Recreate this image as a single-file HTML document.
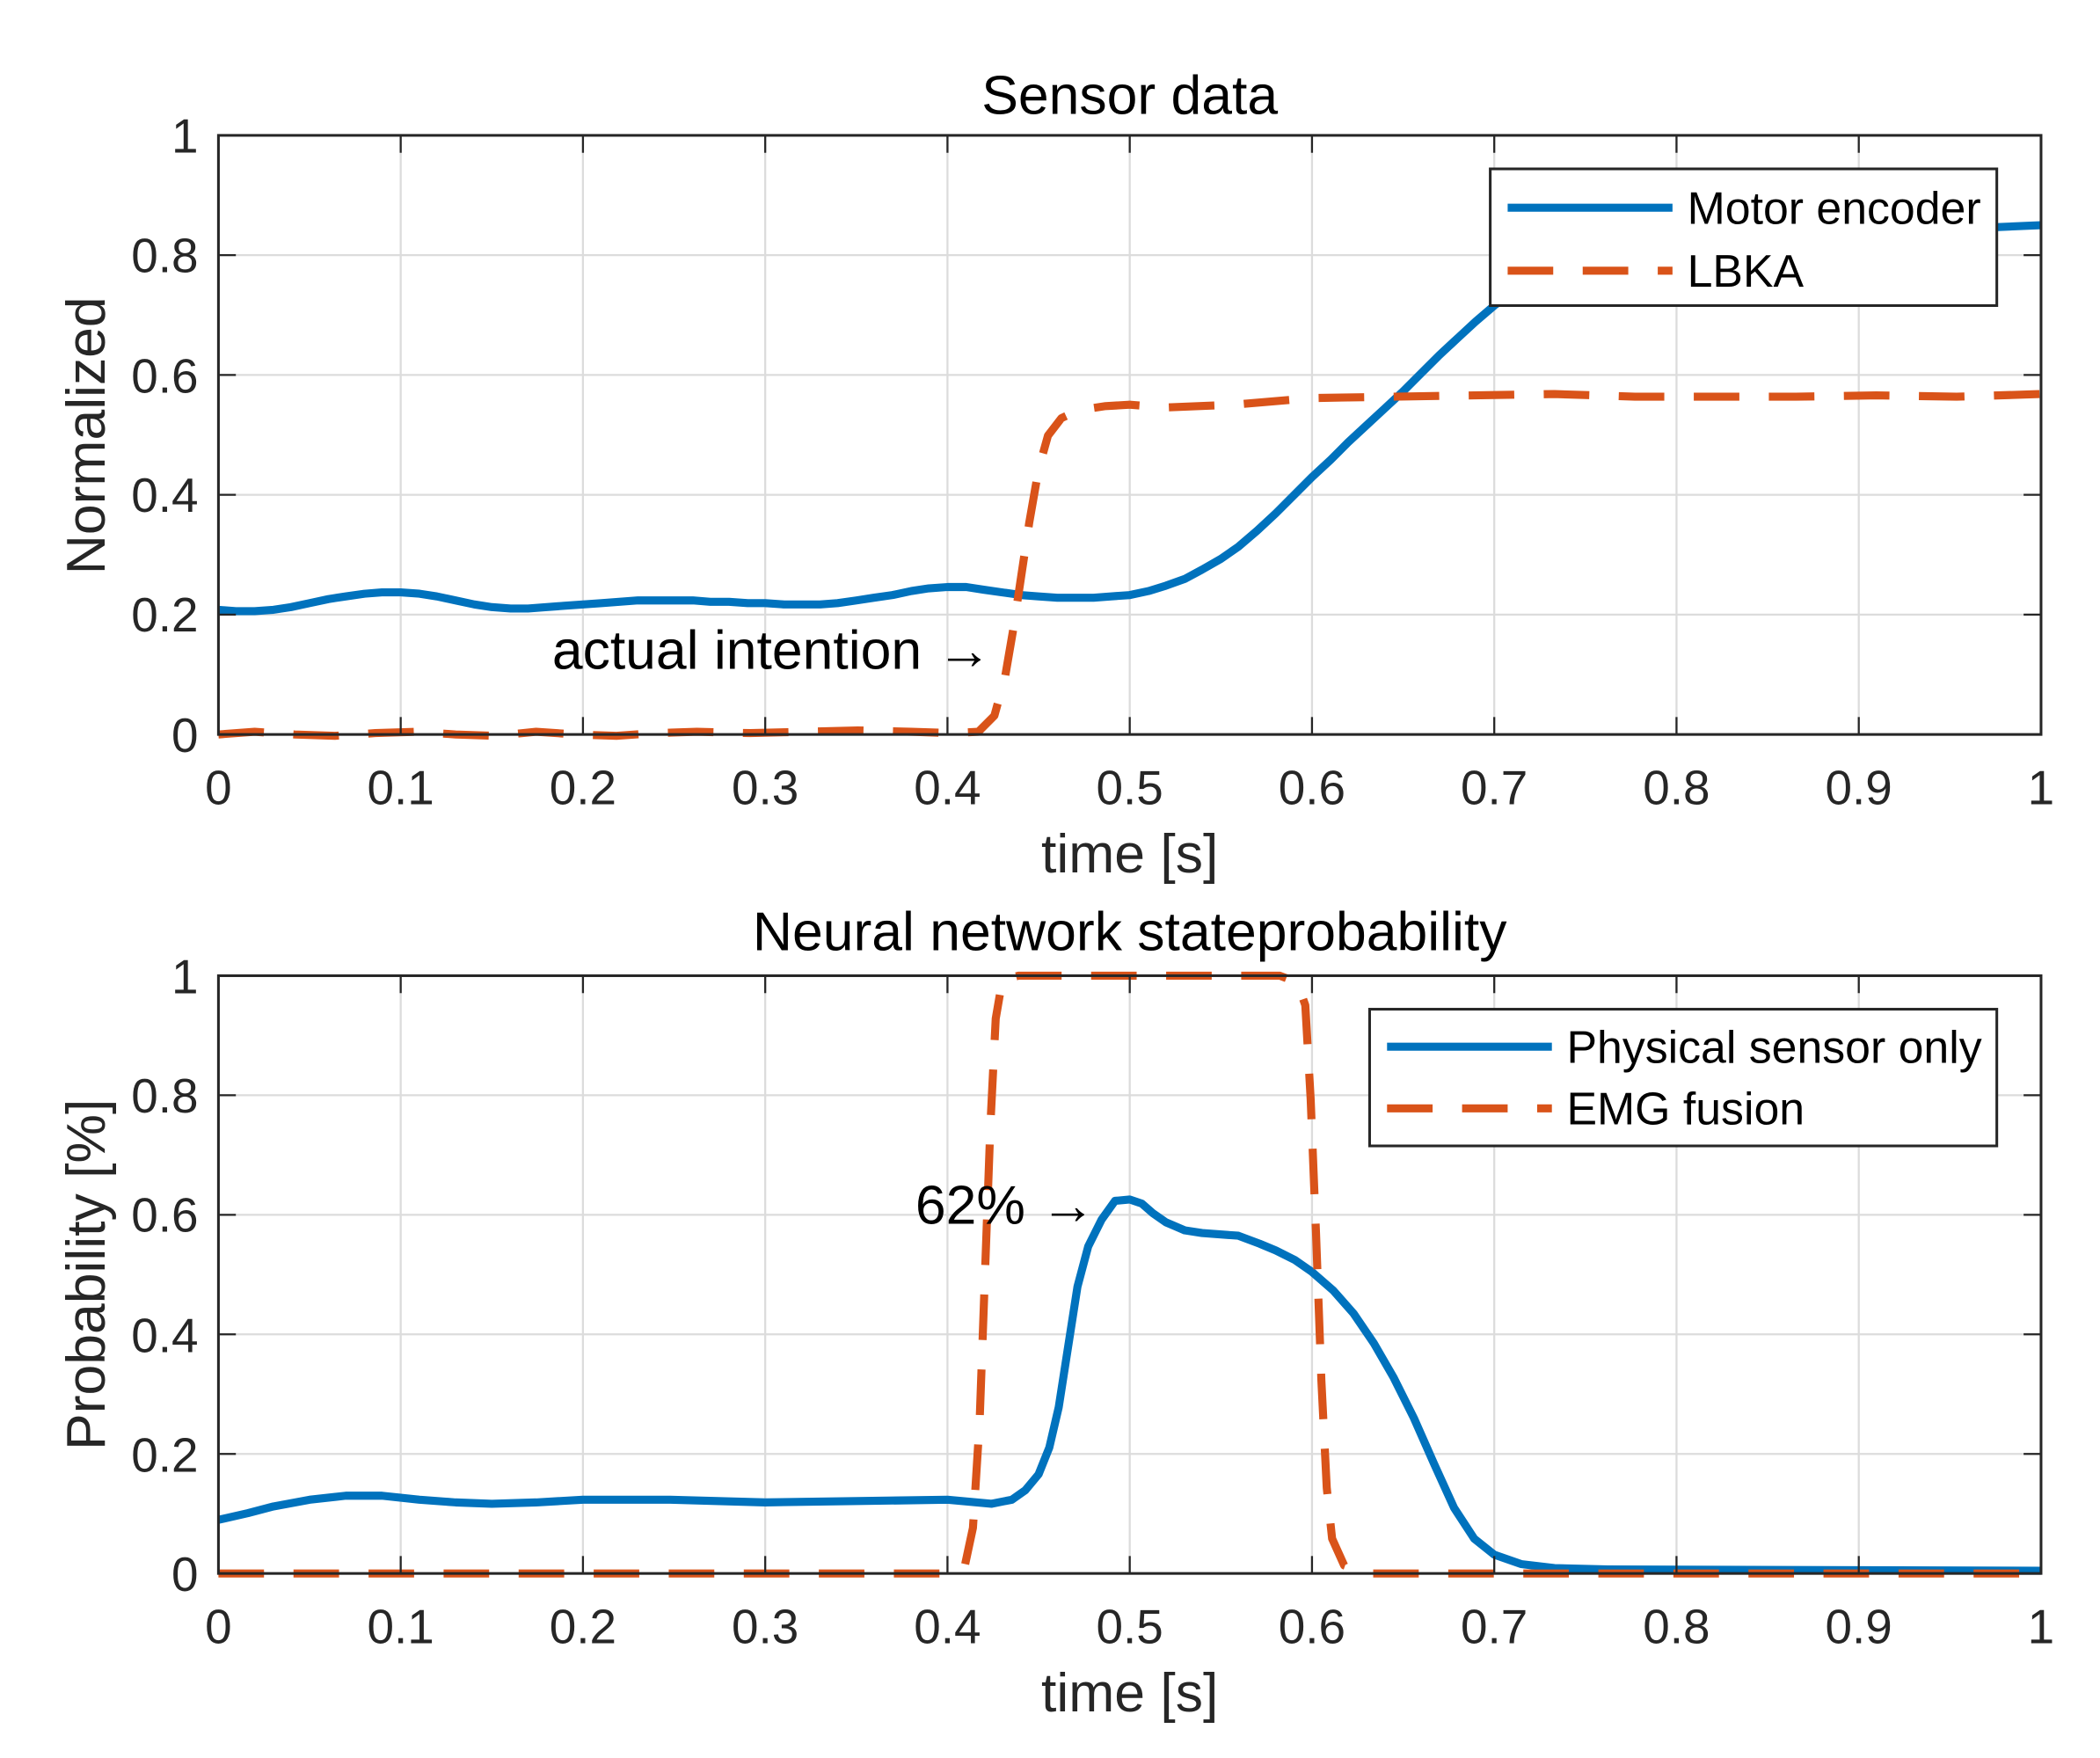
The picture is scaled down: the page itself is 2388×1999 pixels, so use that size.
<!DOCTYPE html>
<html><head><meta charset="utf-8"><style>html,body{margin:0;padding:0;background:#fff}svg{display:block}</style></head>
<body>
<svg width="2388" height="1999" viewBox="0 0 1567 1311.7" preserveAspectRatio="none" xmlns="http://www.w3.org/2000/svg" font-family="Liberation Sans, Arial, sans-serif">
<rect width="1567" height="1312" fill="#fff"/>
<!-- TOP AXES -->
<g stroke="#dcdcdc" stroke-width="1.5">
<line x1="299" y1="101" x2="299" y2="548"/><line x1="435" y1="101" x2="435" y2="548"/><line x1="571" y1="101" x2="571" y2="548"/><line x1="707" y1="101" x2="707" y2="548"/><line x1="843" y1="101" x2="843" y2="548"/><line x1="979" y1="101" x2="979" y2="548"/><line x1="1115" y1="101" x2="1115" y2="548"/><line x1="1251" y1="101" x2="1251" y2="548"/><line x1="1387" y1="101" x2="1387" y2="548"/>
<line x1="163" y1="458.6" x2="1523" y2="458.6"/><line x1="163" y1="369.2" x2="1523" y2="369.2"/><line x1="163" y1="279.8" x2="1523" y2="279.8"/><line x1="163" y1="190.4" x2="1523" y2="190.4"/>
</g>
<g fill="none" stroke-width="6" stroke-linejoin="round">
<polyline stroke="#0072BD" points="163,455 176,456 190,456 204,455 217,453 231,450 245,447 258,445 272,443 285,442 299,442 313,443 326,445 340,448 354,451 367,453 381,454 394,454 408,453 421,452 435,451 449,450 462,449 476,448 490,448 503,448 517,448 530,449 544,449 558,450 571,450 585,451 598,451 612,451 625,450 639,448 652,446 666,444 680,441 693,439 707,438 721,438 734,440 748,442 762,444 775,445 789,446 802,446 816,446 829,445 843,444 857,441 870,437 884,432 897,425 911,417 924,408 938,396 952,383 965,370 979,356 993,343 1006,330 1020,317 1033,305 1047,292 1061,278 1074,265 1088,252 1101,240 1115,228 1129,218 1142,209 1156,202 1170,196 1183,191 1197,187 1210,184 1224,181 1292,175 1360,172 1455,171 1523,168"/>
<polyline stroke="#D95319" stroke-dasharray="34,22" points="163,548 190,546 220,548 250,549 280,547 310,546 340,548 370,549 400,546 430,548 460,549 490,547 520,546 560,547 600,546 640,545 680,546 710,547 730,546 742,534 750,505 756,470 762,430 768,390 775,350 782,325 792,312 805,306 825,303 843,302 870,304 920,302 979,297 1040,296 1100,295 1160,294 1220,296 1280,296 1340,296 1400,295 1460,296 1523,294"/>
</g>
<rect x="163" y="101" width="1360" height="447" fill="none" stroke="#262626" stroke-width="2"/>
<g stroke="#262626" stroke-width="1.5">
<line x1="299" y1="548" x2="299" y2="535"/><line x1="435" y1="548" x2="435" y2="535"/><line x1="571" y1="548" x2="571" y2="535"/><line x1="707" y1="548" x2="707" y2="535"/><line x1="843" y1="548" x2="843" y2="535"/><line x1="979" y1="548" x2="979" y2="535"/><line x1="1115" y1="548" x2="1115" y2="535"/><line x1="1251" y1="548" x2="1251" y2="535"/><line x1="1387" y1="548" x2="1387" y2="535"/>
<line x1="299" y1="101" x2="299" y2="114"/><line x1="435" y1="101" x2="435" y2="114"/><line x1="571" y1="101" x2="571" y2="114"/><line x1="707" y1="101" x2="707" y2="114"/><line x1="843" y1="101" x2="843" y2="114"/><line x1="979" y1="101" x2="979" y2="114"/><line x1="1115" y1="101" x2="1115" y2="114"/><line x1="1251" y1="101" x2="1251" y2="114"/><line x1="1387" y1="101" x2="1387" y2="114"/>
<line x1="163" y1="458.6" x2="176" y2="458.6"/><line x1="163" y1="369.2" x2="176" y2="369.2"/><line x1="163" y1="279.8" x2="176" y2="279.8"/><line x1="163" y1="190.4" x2="176" y2="190.4"/>
<line x1="1523" y1="458.6" x2="1510" y2="458.6"/><line x1="1523" y1="369.2" x2="1510" y2="369.2"/><line x1="1523" y1="279.8" x2="1510" y2="279.8"/><line x1="1523" y1="190.4" x2="1510" y2="190.4"/>
</g>
<g font-size="36" fill="#262626" text-anchor="middle">
<text x="163" y="600">0</text><text x="299" y="600">0.1</text><text x="435" y="600">0.2</text><text x="571" y="600">0.3</text><text x="707" y="600">0.4</text><text x="843" y="600">0.5</text><text x="979" y="600">0.6</text><text x="1115" y="600">0.7</text><text x="1251" y="600">0.8</text><text x="1387" y="600">0.9</text><text x="1523" y="600">1</text>
</g>
<g font-size="36" fill="#262626" text-anchor="end">
<text x="148" y="561">0</text><text x="148" y="471">0.2</text><text x="148" y="382">0.4</text><text x="148" y="293">0.6</text><text x="148" y="203">0.8</text><text x="148" y="114">1</text>
</g>
<text x="843" y="651" font-size="41" text-anchor="middle" fill="#262626">time [s]</text>
<text x="843" y="85" font-size="41" text-anchor="middle" fill="#000">Sensor data</text>
<text transform="translate(78,325) rotate(-90)" font-size="41" text-anchor="middle" fill="#262626">Normalized</text>
<text x="412" y="499" font-size="41" fill="#000">actual intention →</text>
<rect x="1112" y="126" width="378" height="102" fill="#fff" stroke="#262626" stroke-width="2"/>
<line x1="1125" y1="155" x2="1248" y2="155" stroke="#0072BD" stroke-width="6"/>
<line x1="1125" y1="202" x2="1248" y2="202" stroke="#D95319" stroke-width="6" stroke-dasharray="34,22"/>
<text x="1259" y="167" font-size="34" fill="#000">Motor encoder</text>
<text x="1259" y="214" font-size="34" fill="#000">LBKA</text>

<!-- BOTTOM AXES -->
<g stroke="#dcdcdc" stroke-width="1.5">
<line x1="299" y1="728" x2="299" y2="1174"/><line x1="435" y1="728" x2="435" y2="1174"/><line x1="571" y1="728" x2="571" y2="1174"/><line x1="707" y1="728" x2="707" y2="1174"/><line x1="843" y1="728" x2="843" y2="1174"/><line x1="979" y1="728" x2="979" y2="1174"/><line x1="1115" y1="728" x2="1115" y2="1174"/><line x1="1251" y1="728" x2="1251" y2="1174"/><line x1="1387" y1="728" x2="1387" y2="1174"/>
<line x1="163" y1="1084.8" x2="1523" y2="1084.8"/><line x1="163" y1="995.6" x2="1523" y2="995.6"/><line x1="163" y1="906.4" x2="1523" y2="906.4"/><line x1="163" y1="817.2" x2="1523" y2="817.2"/>
</g>
<g fill="none" stroke-width="6" stroke-linejoin="round">
<polyline stroke="#0072BD" points="163,1134 185,1129 204,1124 231,1119 258,1116 285,1116 313,1119 340,1121 367,1122 400,1121 435,1119 500,1119 571,1121 640,1120 707,1119 740,1122 755,1119 765,1112 775,1100 783,1080 790,1050 797,1005 804,960 812,930 822,910 832,896 843,895 852,898 860,905 870,912 884,918 897,920 924,922 940,928 952,933 966,940 979,949 995,963 1010,980 1025,1002 1040,1028 1055,1058 1070,1092 1085,1125 1100,1148 1115,1160 1135,1167 1160,1170 1200,1171 1523,1172"/>
<polyline stroke="#D95319" stroke-dasharray="34,22" points="163,1174 712,1174 720,1168 726,1140 731,1060 735,950 739,840 743,760 748,731 760,728 955,728 968,733 974,750 978,820 982,920 986,1030 990,1110 994,1148 1003,1168 1020,1174 1523,1174"/>
</g>
<rect x="163" y="728" width="1360" height="446" fill="none" stroke="#262626" stroke-width="2"/>
<g stroke="#262626" stroke-width="1.5">
<line x1="299" y1="1174" x2="299" y2="1161"/><line x1="435" y1="1174" x2="435" y2="1161"/><line x1="571" y1="1174" x2="571" y2="1161"/><line x1="707" y1="1174" x2="707" y2="1161"/><line x1="843" y1="1174" x2="843" y2="1161"/><line x1="979" y1="1174" x2="979" y2="1161"/><line x1="1115" y1="1174" x2="1115" y2="1161"/><line x1="1251" y1="1174" x2="1251" y2="1161"/><line x1="1387" y1="1174" x2="1387" y2="1161"/>
<line x1="299" y1="728" x2="299" y2="741"/><line x1="435" y1="728" x2="435" y2="741"/><line x1="571" y1="728" x2="571" y2="741"/><line x1="707" y1="728" x2="707" y2="741"/><line x1="843" y1="728" x2="843" y2="741"/><line x1="979" y1="728" x2="979" y2="741"/><line x1="1115" y1="728" x2="1115" y2="741"/><line x1="1251" y1="728" x2="1251" y2="741"/><line x1="1387" y1="728" x2="1387" y2="741"/>
<line x1="163" y1="1084.8" x2="176" y2="1084.8"/><line x1="163" y1="995.6" x2="176" y2="995.6"/><line x1="163" y1="906.4" x2="176" y2="906.4"/><line x1="163" y1="817.2" x2="176" y2="817.2"/>
<line x1="1523" y1="1084.8" x2="1510" y2="1084.8"/><line x1="1523" y1="995.6" x2="1510" y2="995.6"/><line x1="1523" y1="906.4" x2="1510" y2="906.4"/><line x1="1523" y1="817.2" x2="1510" y2="817.2"/>
</g>
<g font-size="36" fill="#262626" text-anchor="middle">
<text x="163" y="1226">0</text><text x="299" y="1226">0.1</text><text x="435" y="1226">0.2</text><text x="571" y="1226">0.3</text><text x="707" y="1226">0.4</text><text x="843" y="1226">0.5</text><text x="979" y="1226">0.6</text><text x="1115" y="1226">0.7</text><text x="1251" y="1226">0.8</text><text x="1387" y="1226">0.9</text><text x="1523" y="1226">1</text>
</g>
<g font-size="36" fill="#262626" text-anchor="end">
<text x="148" y="1187">0</text><text x="148" y="1098">0.2</text><text x="148" y="1009">0.4</text><text x="148" y="919">0.6</text><text x="148" y="830">0.8</text><text x="148" y="741">1</text>
</g>
<text x="843" y="1277" font-size="41" text-anchor="middle" fill="#262626">time [s]</text>
<text x="843" y="709" font-size="41" text-anchor="middle" fill="#000">Neural network stateprobability</text>
<text transform="translate(78,951) rotate(-90)" font-size="41" text-anchor="middle" fill="#262626">Probability [%]</text>
<text x="683" y="913" font-size="41" fill="#000">62% →</text>
<rect x="1022" y="753" width="468" height="102" fill="#fff" stroke="#262626" stroke-width="2"/>
<line x1="1035" y1="781" x2="1158" y2="781" stroke="#0072BD" stroke-width="6"/>
<line x1="1035" y1="827" x2="1158" y2="827" stroke="#D95319" stroke-width="6" stroke-dasharray="34,22"/>
<text x="1169" y="793" font-size="34" fill="#000">Physical sensor only</text>
<text x="1169" y="839" font-size="34" fill="#000">EMG fusion</text>
</svg>
</body></html>
